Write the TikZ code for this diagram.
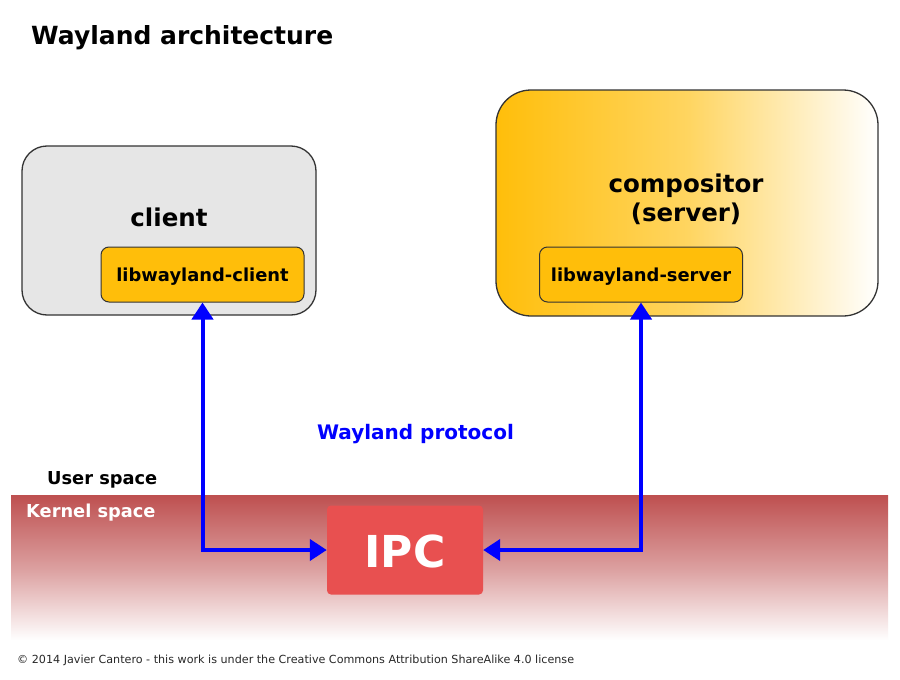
\documentclass[tikz,border=0pt]{standalone}
\usepackage{fontspec}
\setmainfont{DejaVu Sans}
\usetikzlibrary{arrows.meta}
\definecolor{amber}{RGB}{255,190,10}
\definecolor{clientgray}{RGB}{230,230,230}
\definecolor{edgegray}{RGB}{51,51,51}
\definecolor{kernelred}{RGB}{190,80,80}
\definecolor{ipcred}{RGB}{232,80,80}
\definecolor{protoblue}{RGB}{0,0,255}
\definecolor{notegray}{RGB}{40,40,40}
\begin{document}
\begin{tikzpicture}[x=1pt,y=-1pt,
  outerbox/.style={draw=edgegray, line width=1.3pt, inner sep=0pt},
  libbox/.style={draw=edgegray, line width=1pt, fill=amber, rounded corners=8pt,
    minimum width=203pt, minimum height=55pt, inner sep=0pt},
  lbl/.style={inner sep=0pt, anchor=base, font=\bfseries\fontsize{24.5}{30}\selectfont},
  liblbl/.style={inner sep=0pt, anchor=base, font=\bfseries\fontsize{17.9}{21}\selectfont},
  flow/.style={draw=protoblue, line width=4pt, {Triangle[length=17pt,width=21pt]}-{Triangle[length=17pt,width=21pt]}},
]
\useasboundingbox (0,0) rectangle (900,680);
\fill[white] (0,0) rectangle (900,680);

% title
\node[inner sep=0pt, anchor=base west, font=\bfseries\fontsize{25}{30}\selectfont] (title) at (31,45) {Wayland architecture};

% kernel band
\node[inner sep=0pt, minimum width=877pt, minimum height=145pt, top color=kernelred, bottom color=white, middle color=kernelred!55!white, anchor=north west] (kernel) at (11,495) {};

% client
\node[outerbox, fill=clientgray, rounded corners=25pt, minimum width=294pt, minimum height=169pt] (client) at (169,230.5) {};
\node[lbl] (clientlbl) at (169,226) {client};
\node[libbox] (libc) at (202.5,274.5) {};
\node[liblbl] (libclbl) at (202.5,281) {libwayland-client};

% compositor
\node[outerbox, left color=amber, right color=white, middle color=amber!65!white, rounded corners=35pt, minimum width=382pt, minimum height=226pt] (comp) at (687,203) {};
\node[lbl] (complbl) at (686,192) {compositor};
\node[lbl] (serverlbl) at (686,221) {(server)};
\node[libbox] (libs) at (641,274.5) {};
\node[liblbl] (libslbl) at (641,281) {libwayland-server};

% IPC
\node[fill=ipcred, rounded corners=4pt, minimum width=156pt, minimum height=89pt, inner sep=0pt] (ipc) at (405,550) {};
\node[inner sep=0pt, anchor=base, text=white, font=\bfseries\fontsize{44}{50}\selectfont] (ipclbl) at (405,567) {IPC};

% labels
\node[inner sep=0pt, anchor=base, text=protoblue, font=\bfseries\fontsize{20}{24}\selectfont] (proto) at (415.5,439) {Wayland protocol};
\node[inner sep=0pt, anchor=base west, font=\bfseries\fontsize{17.8}{21}\selectfont] (user) at (47,484) {User space};
\node[inner sep=0pt, anchor=base west, text=white, font=\bfseries\fontsize{17.8}{21}\selectfont] (kern) at (26,517) {Kernel space};

% connectors
\draw[flow] (libc.south) |- (ipc.west);
\draw[flow] (libs.south) |- (ipc.east);

% footer
\node[inner sep=0pt, anchor=base west, text=notegray, font=\fontsize{11.15}{14}\selectfont] (copy) at (17,663) {© 2014 Javier Cantero - this work is under the Creative Commons Attribution ShareAlike 4.0 license};
\end{tikzpicture}
\end{document}
